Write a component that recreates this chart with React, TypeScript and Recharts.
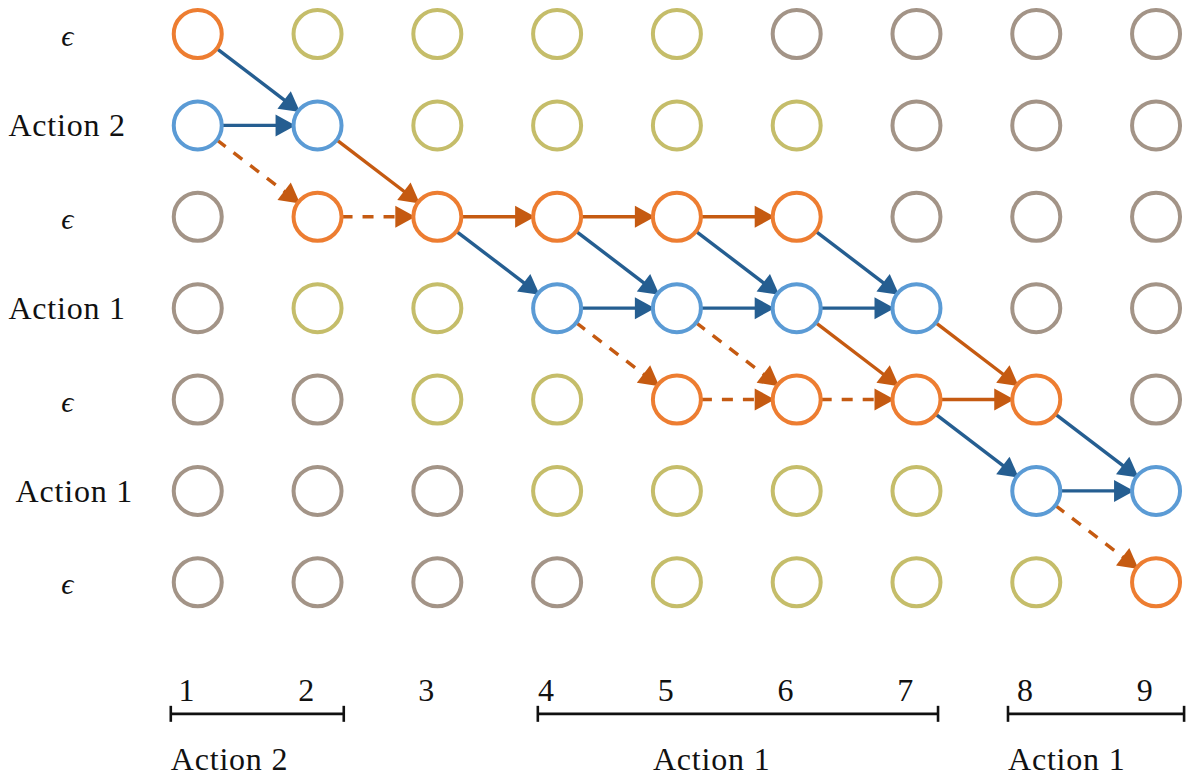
import React from 'react';
import { ScatterChart, Scatter, XAxis, YAxis, ReferenceLine, ReferenceDot } from 'recharts';

// ---- data ----
const columns = [1, 2, 3, 4, 5, 6, 7, 8, 9];
const rowLabels = ['ϵ', 'Action 2', 'ϵ', 'Action 1', 'ϵ', 'Action 1', 'ϵ'];
const rowLabelX = [-0.09, -0.09, -0.09, -0.09, -0.09, -0.03, -0.09];
// O = on-path blank, B = on-path action, Y = reachable, G = unreachable
const cellStates = [
  'OYYYYGGGG',
  'BBYYYYGGG',
  'GOOOOOGGG',
  'GYYBBBBGG',
  'GGYYOOOOG',
  'GGGYYYYBB',
  'GGGGYYYYO',
];
// [fromCol, fromRow, toCol, toRow, colour kind, dashed]
const arrows: [number, number, number, number, 'b' | 'o', boolean][] = [
  [1, 0, 2, 1, 'b', false],
  [1, 1, 2, 1, 'b', false],
  [1, 1, 2, 2, 'o', true],
  [2, 1, 3, 2, 'o', false],
  [2, 2, 3, 2, 'o', true],
  [3, 2, 4, 2, 'o', false],
  [4, 2, 5, 2, 'o', false],
  [5, 2, 6, 2, 'o', false],
  [3, 2, 4, 3, 'b', false],
  [4, 2, 5, 3, 'b', false],
  [5, 2, 6, 3, 'b', false],
  [6, 2, 7, 3, 'b', false],
  [4, 3, 5, 3, 'b', false],
  [5, 3, 6, 3, 'b', false],
  [6, 3, 7, 3, 'b', false],
  [4, 3, 5, 4, 'o', true],
  [5, 3, 6, 4, 'o', true],
  [5, 4, 6, 4, 'o', true],
  [6, 4, 7, 4, 'o', true],
  [6, 3, 7, 4, 'o', false],
  [7, 3, 8, 4, 'o', false],
  [7, 4, 8, 4, 'o', false],
  [7, 4, 8, 5, 'b', false],
  [8, 4, 9, 5, 'b', false],
  [8, 5, 9, 5, 'b', false],
  [8, 5, 9, 6, 'o', true],
];
const frameNumbers = ['1', '2', '3', '4', '5', '6', '7', '8', '9'];
const segments = [
  { from: 0.775, to: 2.219, label: 'Action 2', labelX: 0.775 },
  { from: 3.839, to: 7.18, label: 'Action 1', labelX: 4.8 },
  { from: 7.764, to: 9.234, label: 'Action 1', labelX: 7.764 },
];

// ---- style ----
const stateColor: Record<string, string> = {
  O: '#ED7D31',
  B: '#5B9BD5',
  Y: '#C5BD6A',
  G: '#A39487',
};
const arrowColor = { b: '#255E91', o: '#C55A11' };
const FONT = "'Liberation Serif', 'DejaVu Serif', serif";
const NUM_Y = 7.3;
const BRACKET_Y = 7.44;
const SEG_LABEL_Y = 8.06;

const groups = ['G', 'Y', 'O', 'B'].map((k) => ({
  key: k,
  points: cellStates.flatMap((row, r) =>
    row.split('').map((s, c) => ({ s, x: columns[c], y: r })).filter((p) => p.s === k)
  ),
}));

const circleShape = (color: string) => (p: any) => (
  <circle cx={p.cx} cy={p.cy} r={24} fill="#fff" stroke={color} strokeWidth={4} />
);

const arrowShape = (color: string, dashed: boolean) => (p: any) => {
  const { x1, y1, x2, y2 } = p;
  const dx = x2 - x1;
  const dy = y2 - y1;
  const len = Math.sqrt(dx * dx + dy * dy);
  const ux = dx / len;
  const uy = dy / len;
  const sx = x1 + ux * 24;
  const sy = y1 + uy * 24;
  const tx = x2 - ux * 22;
  const ty = y2 - uy * 22;
  const hl = 20;
  const hw = 11;
  const bx = tx - ux * hl;
  const by = ty - uy * hl;
  const ex = tx - ux * (hl - 2);
  const ey = ty - uy * (hl - 2);
  const pts = `${tx},${ty} ${bx - uy * hw},${by + ux * hw} ${bx + uy * hw},${by - ux * hw}`;
  return (
    <g>
      <line x1={sx} y1={sy} x2={ex} y2={ey} stroke={color} strokeWidth={3.4} strokeDasharray={dashed ? '11 10' : undefined} />
      <polygon points={pts} fill={color} />
    </g>
  );
};

const textShape = (text: string, opts: { dy?: number; anchor?: string; italic?: boolean; size?: number }) => (p: any) => (
  <text
    x={p.cx}
    y={p.cy + (opts.dy || 0)}
    textAnchor={opts.anchor || 'middle'}
    fontFamily={FONT}
    fontSize={opts.size || 32}
    letterSpacing={opts.italic ? 0 : 0.8}
    fontStyle={opts.italic ? 'italic' : 'normal'}
    fill="#111"
  >
    {text}
  </text>
);

const bracketShape = (p: any) => {
  const { x1, y1, x2, y2 } = p;
  return (
    <g stroke="#111" strokeWidth={2.6}>
      <line x1={x1} y1={y1} x2={x2} y2={y2} />
      <line x1={x1} y1={y1 - 8} x2={x1} y2={y1 + 8} />
      <line x1={x2} y1={y2 - 8} x2={x2} y2={y2 + 8} />
    </g>
  );
};

export default function App() {
  return (
    <div style={{ position: 'absolute', left: 0, top: 0, background: '#fff' }}>
      <ScatterChart width={1187} height={778} margin={{ top: 34, right: 1, bottom: 13, left: 54 }}>
        <XAxis type="number" dataKey="x" domain={[-0.2, 9.25]} hide />
        <YAxis type="number" dataKey="y" domain={[0, 8]} reversed hide />
        {arrows.map(([c1, r1, c2, r2, k, d], i) => (
          <ReferenceLine
            key={'a' + i}
            segment={[{ x: c1, y: r1 }, { x: c2, y: r2 }]}
            ifOverflow="visible"
            shape={arrowShape(arrowColor[k], d)}
          />
        ))}
        {groups.map((g) => (
          <Scatter key={g.key} data={g.points} isAnimationActive={false} shape={circleShape(stateColor[g.key])} />
        ))}
        {rowLabels.map((t, r) => (
          <ReferenceDot
            key={'rl' + r}
            x={rowLabelX[r]}
            y={r}
            ifOverflow="visible"
            shape={textShape(t, { dy: t === 'ϵ' ? 12 : 11, italic: t === 'ϵ', size: t === 'ϵ' ? 30 : 32 })}
          />
        ))}
        {frameNumbers.map((t, i) => (
          <ReferenceDot key={'n' + i} x={columns[i] - 0.09} y={NUM_Y} ifOverflow="visible" shape={textShape(t, {})} />
        ))}
        {segments.map((s, i) => (
          <ReferenceLine
            key={'b' + i}
            segment={[{ x: s.from, y: BRACKET_Y }, { x: s.to, y: BRACKET_Y }]}
            ifOverflow="visible"
            shape={bracketShape}
          />
        ))}
        {segments.map((s, i) => (
          <ReferenceDot key={'sl' + i} x={s.labelX} y={SEG_LABEL_Y} ifOverflow="visible" shape={textShape(s.label, { anchor: 'start' })} />
        ))}
      </ScatterChart>
    </div>
  );
}
